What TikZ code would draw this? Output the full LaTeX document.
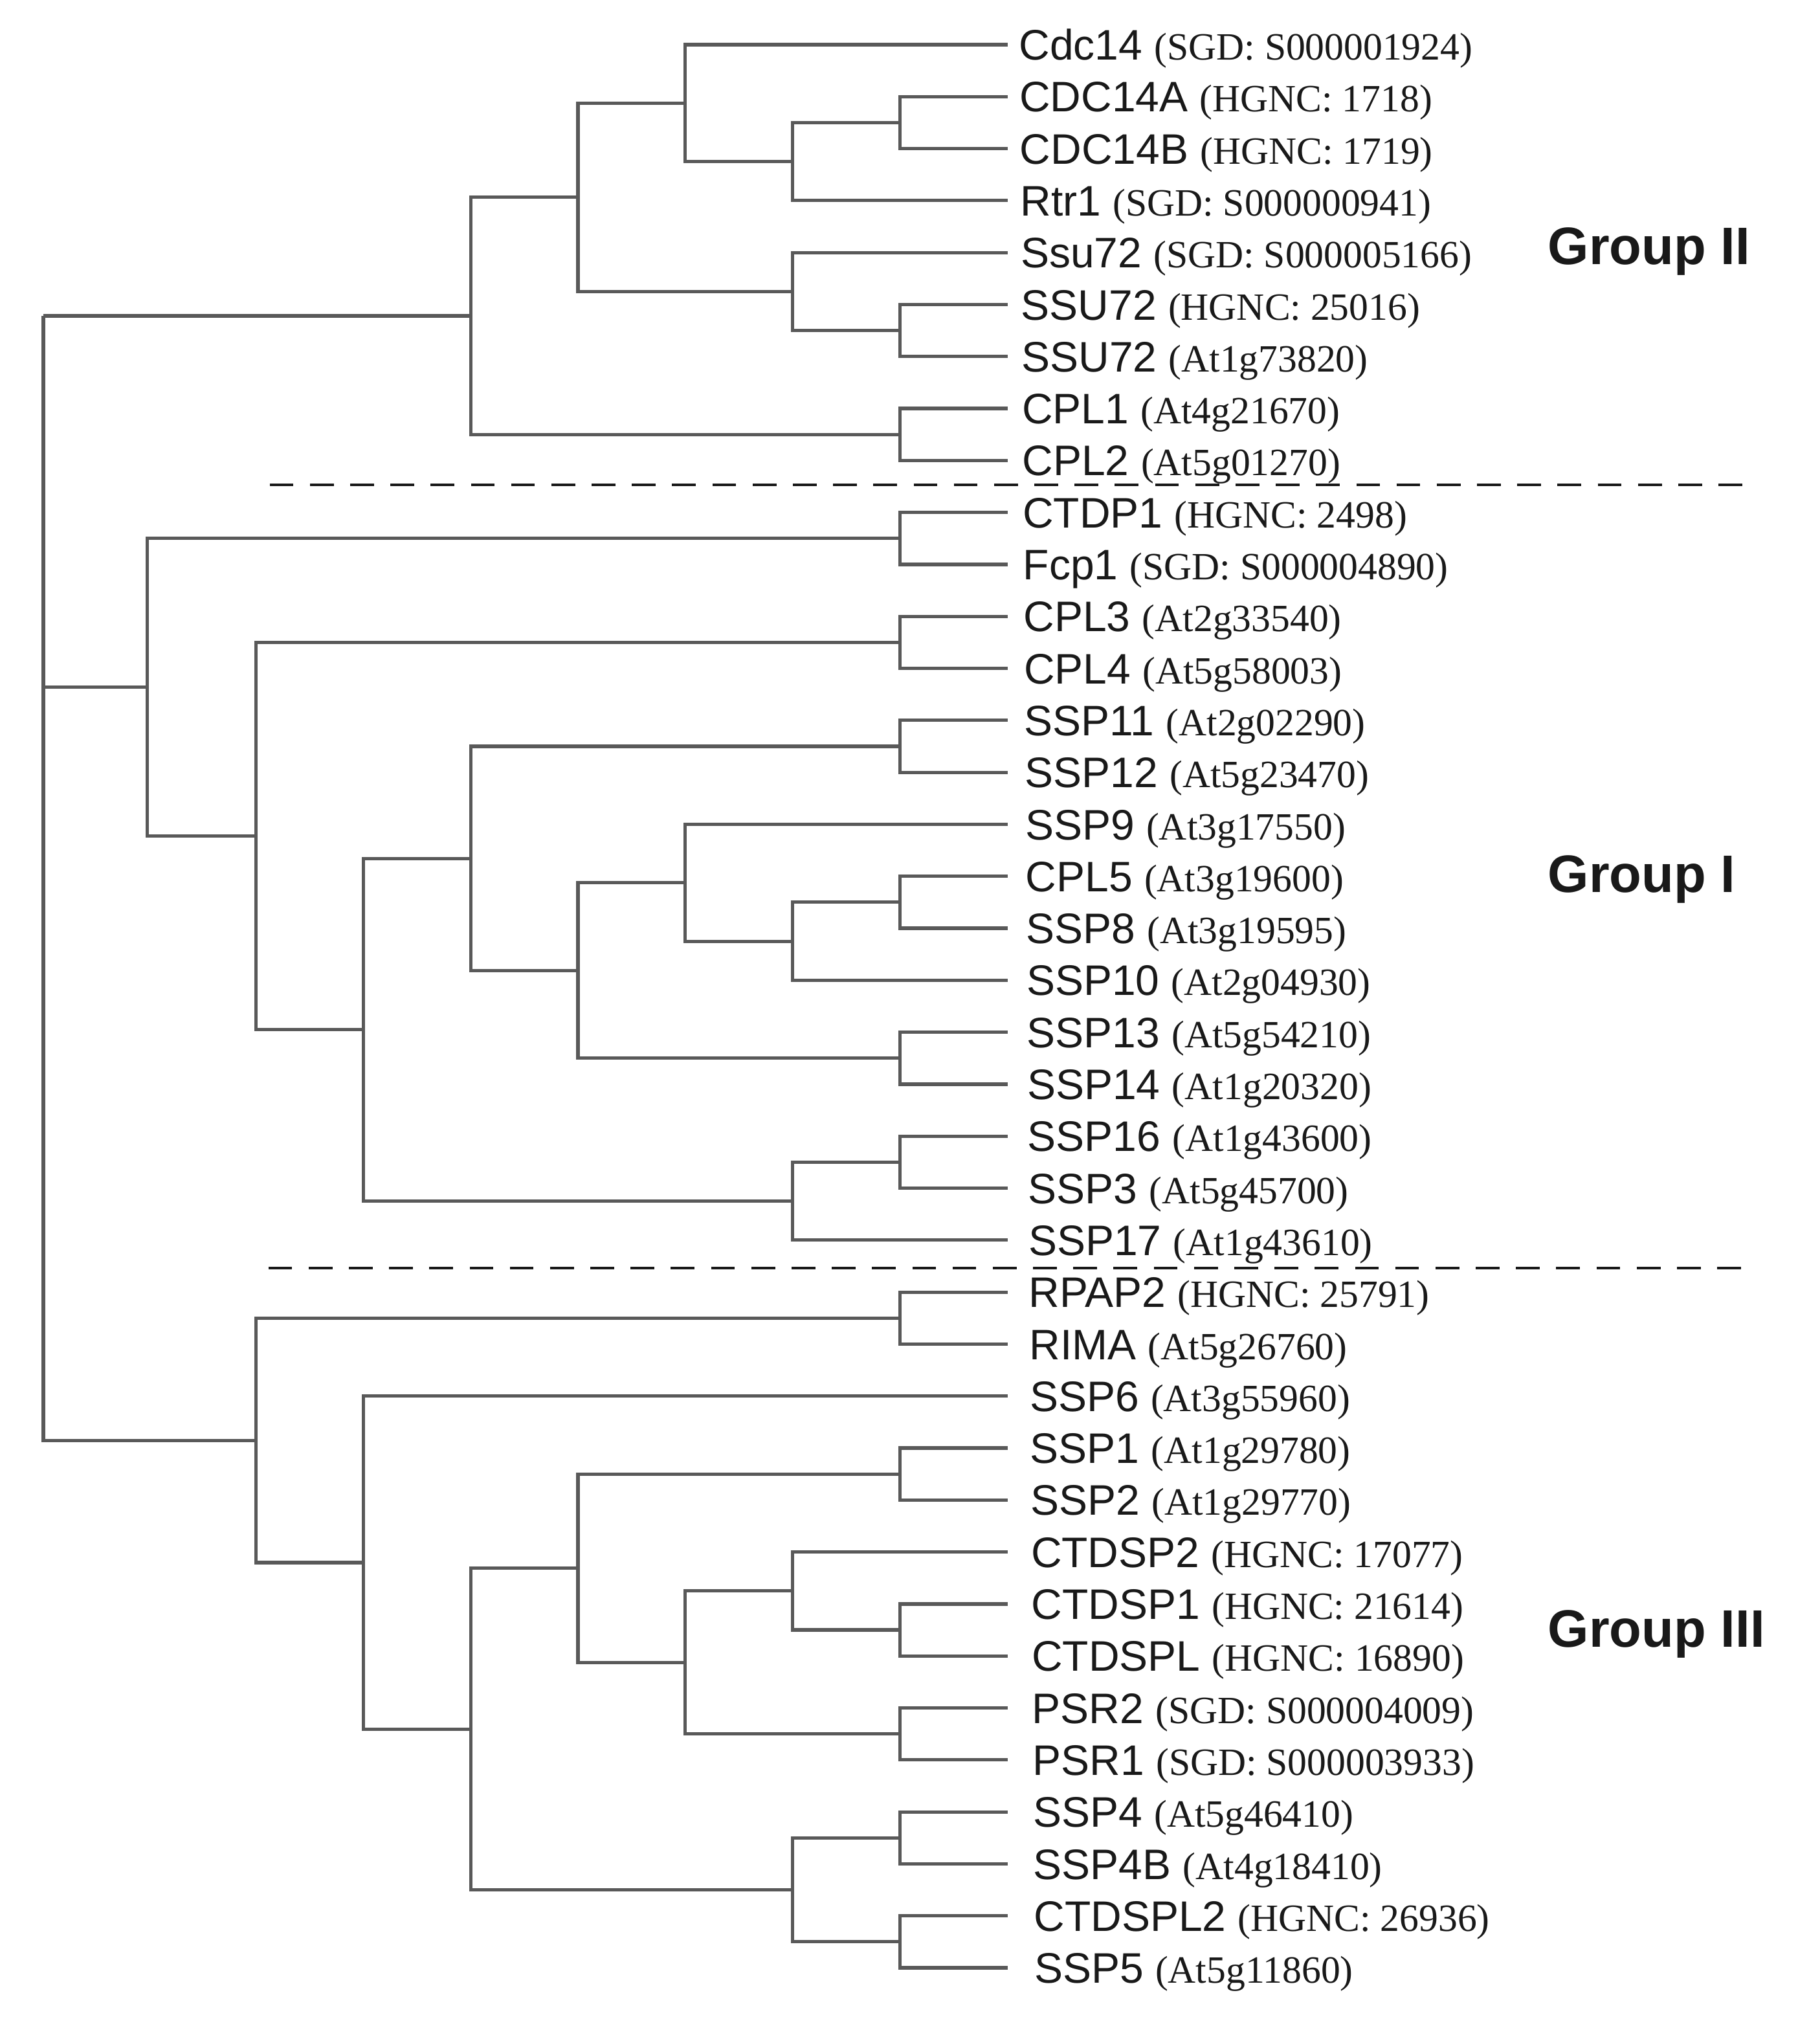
\documentclass[tikz,border=0pt]{standalone}
\usepackage{fontspec}
\setmainfont{Liberation Serif}
\setsansfont{Liberation Sans}
\newcommand{\acc}[1]{{\rmfamily\fontsize{15}{17}\selectfont(#1)}}
\begin{document}
\begin{tikzpicture}[x=0.5pt, y=-0.5pt,
    leaf/.style={anchor=west, inner ysep=0pt, text height=11.9pt, text depth=0pt,
        font=\sffamily\fontsize{16.6}{19}\selectfont, text=black!90},
    branch/.style={every edge/.style={draw=black!65, line width=1.3pt, line join=miter,
        to path={|- (\tikztotarget)}}},
    sep/.style={draw=black!90, line width=0.85pt, dash pattern=on 9.25pt off 6.4pt},
    grouplab/.style={anchor=base west, inner sep=0pt,
        font=\sffamily\bfseries\fontsize{20.5}{24}\selectfont, text=black!90}]
    \useasboundingbox (0,0) rectangle (1415,1568.5);

    % leaves, top to bottom
    \foreach \nk/\gname/\gid [count=\i from 0] in {
        cdc14/Cdc14/SGD: S000001924, cdc14a/CDC14A/HGNC: 1718, cdc14b/CDC14B/HGNC: 1719,
        rtr1/Rtr1/SGD: S000000941, ssu72y/Ssu72/SGD: S000005166, ssu72h/SSU72/HGNC: 25016,
        ssu72a/SSU72/At1g73820, cpl1/CPL1/At4g21670, cpl2/CPL2/At5g01270,
        ctdp1/CTDP1/HGNC: 2498, fcp1/Fcp1/SGD: S000004890, cpl3/CPL3/At2g33540,
        cpl4/CPL4/At5g58003, ssp11/SSP11/At2g02290, ssp12/SSP12/At5g23470,
        ssp9/SSP9/At3g17550, cpl5/CPL5/At3g19600, ssp8/SSP8/At3g19595,
        ssp10/SSP10/At2g04930, ssp13/SSP13/At5g54210, ssp14/SSP14/At1g20320,
        ssp16/SSP16/At1g43600, ssp3/SSP3/At5g45700, ssp17/SSP17/At1g43610,
        rpap2/RPAP2/HGNC: 25791, rima/RIMA/At5g26760, ssp6/SSP6/At3g55960,
        ssp1/SSP1/At1g29780, ssp2/SSP2/At1g29770, ctdsp2/CTDSP2/HGNC: 17077,
        ctdsp1/CTDSP1/HGNC: 21614, ctdspl/CTDSPL/HGNC: 16890, psr2/PSR2/SGD: S000004009,
        psr1/PSR1/SGD: S000003933, ssp4/SSP4/At5g46410, ssp4b/SSP4B/At4g18410,
        ctdspl2/CTDSPL2/HGNC: 26936, ssp5/SSP5/At5g11860}{
        \pgfmathsetmacro\ly{34.7+40.42*\i}
        \pgfmathsetmacro\gap{4.35+0.16*\i}
        \node[leaf, inner xsep=\gap pt] (\nk) at (783.5,\ly) {\gname\ \acc{\gid}};
    }

    % inner nodes
    \coordinate (root) at (33.7,245.64);
    \coordinate (a1) at (700,95.33);
    \coordinate (a2) at (616.5,125.65);
    \coordinate (a3) at (533,80.17);
    \coordinate (a4) at (700,257.01);
    \coordinate (a5) at (616.5,226.7);
    \coordinate (a6) at (449.5,153.43);
    \coordinate (a7) at (700,337.85);
    \coordinate (a8) at (366,245.64);
    \coordinate (b1) at (700,418.69);
    \coordinate (b2) at (700,499.53);
    \coordinate (b3) at (700,580.37);
    \coordinate (b4) at (700,701.63);
    \coordinate (b5) at (616.5,731.95);
    \coordinate (b6) at (533,686.47);
    \coordinate (b7) at (700,822.89);
    \coordinate (b8) at (449.5,754.68);
    \coordinate (b9) at (366,667.53);
    \coordinate (b10) at (700,903.73);
    \coordinate (b11) at (616.5,934.05);
    \coordinate (b12) at (282.5,800.79);
    \coordinate (b13) at (199,650.16);
    \coordinate (b14) at (114.6,534.43);
    \coordinate (d1) at (700,1024.99);
    \coordinate (d2) at (700,1146.25);
    \coordinate (d3) at (700,1267.51);
    \coordinate (d4) at (616.5,1237.2);
    \coordinate (d5) at (700,1348.35);
    \coordinate (d6) at (533,1292.78);
    \coordinate (d7) at (449.5,1219.52);
    \coordinate (d8) at (700,1429.19);
    \coordinate (d9) at (700,1510.03);
    \coordinate (d10) at (616.5,1469.61);
    \coordinate (d11) at (366,1344.57);
    \coordinate (d12) at (282.5,1215.1);
    \coordinate (d13) at (199,1120.05);

    \draw[branch]
        (root) edge (a8) edge (b14) edge (d13)
        (a8) edge (a6) edge (a7)
        (a6) edge (a3) edge (a5)
        (a3) edge (cdc14.west) edge (a2)
        (a2) edge (a1) edge (rtr1.west)
        (a1) edge (cdc14a.west) edge (cdc14b.west)
        (a5) edge (ssu72y.west) edge (a4)
        (a4) edge (ssu72h.west) edge (ssu72a.west)
        (a7) edge (cpl1.west) edge (cpl2.west)
        (b14) edge (b1) edge (b13)
        (b1) edge (ctdp1.west) edge (fcp1.west)
        (b13) edge (b2) edge (b12)
        (b2) edge (cpl3.west) edge (cpl4.west)
        (b12) edge (b9) edge (b11)
        (b9) edge (b3) edge (b8)
        (b3) edge (ssp11.west) edge (ssp12.west)
        (b8) edge (b6) edge (b7)
        (b6) edge (ssp9.west) edge (b5)
        (b5) edge (b4) edge (ssp10.west)
        (b4) edge (cpl5.west) edge (ssp8.west)
        (b7) edge (ssp13.west) edge (ssp14.west)
        (b11) edge (b10) edge (ssp17.west)
        (b10) edge (ssp16.west) edge (ssp3.west)
        (d13) edge (d1) edge (d12)
        (d1) edge (rpap2.west) edge (rima.west)
        (d12) edge (ssp6.west) edge (d11)
        (d11) edge (d7) edge (d10)
        (d7) edge (d2) edge (d6)
        (d2) edge (ssp1.west) edge (ssp2.west)
        (d6) edge (d4) edge (d5)
        (d4) edge (ctdsp2.west) edge (d3)
        (d3) edge (ctdsp1.west) edge (ctdspl.west)
        (d5) edge (psr2.west) edge (psr1.west)
        (d10) edge (d8) edge (d9)
        (d8) edge (ssp4.west) edge (ssp4b.west)
        (d9) edge (ctdspl2.west) edge (ssp5.west)
    ;

    % group borders
    \draw[sep] (209.7,377) -- (1355.6,377);
    \draw[sep] (208.7,986) -- (1355.6,986);

    \node[grouplab] (g2) at (1203.6,205.5) {Group II};
    \node[grouplab] (g1) at (1203.6,694) {Group I};
    \node[grouplab] (g3) at (1203.6,1281) {Group III};
\end{tikzpicture}
\end{document}
